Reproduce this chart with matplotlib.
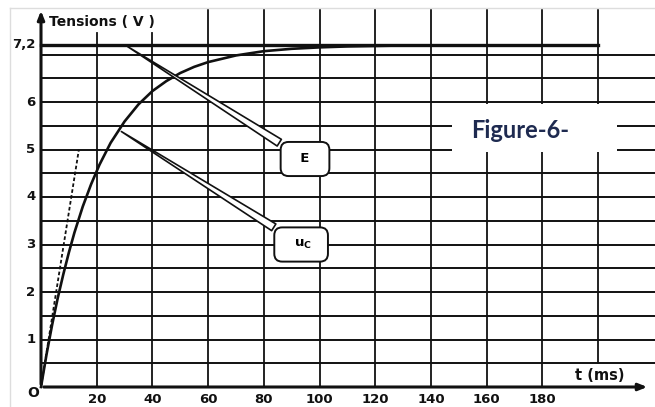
import matplotlib

matplotlib.use("Agg")
import matplotlib.pyplot as plt
from matplotlib.patches import Rectangle
from matplotlib.lines import Line2D

# values
t_ms = [0, 2, 4, 6, 8, 10, 12, 15, 18, 21, 25, 30, 35, 40, 45, 50, 55, 60,
        70, 80, 90, 100, 110, 120, 130]
u_c = [0.0, 0.69, 1.31, 1.87, 2.37, 2.83, 3.25, 3.80, 4.27, 4.68, 5.14, 5.59,
       5.95, 6.23, 6.44, 6.61, 6.74, 6.84, 6.98, 7.07, 7.12, 7.15, 7.17, 7.18, 7.19]
tangent_t = [0, 13.6]
tangent_u = [0, 5.0]
E = 7.2
x_ticks = [20, 40, 60, 80, 100, 120, 140, 160, 180]
y_ticks = [1, 2, 3, 4, 5, 6, 7.2]
y_labels = ["1", "2", "3", "4", "5", "6", "7,2"]

# pixel geometry of the scan: origin at (41, 387), 2.785 px/ms, 47.5 px/V
W, H = 655, 407
OX, OY, SX, SY = 41, 387, 2.785, 47.5

fig = plt.figure(figsize=(W / 100, H / 100), dpi=100)
ax = fig.add_axes([0, 0, 1, 1])
ax.set_xlim(-OX / SX, (W - OX) / SX)
ax.set_ylim((OY - H) / SY, OY / SY)
ax.axis("off")

INK = "#111111"
x_right = (W - OX) / SX

# light frame of the scanned page
fig.add_artist(Line2D([10 / W, 10 / W], [0, 1 - 8 / H], color="#dddddd", lw=1))
fig.add_artist(Line2D([10 / W, 1], [1 - 8 / H, 1 - 8 / H], color="#dddddd", lw=1))

# grid: half-volt horizontal lines, 20 ms vertical lines
for k in range(1, 15):
    ax.plot([0, x_right], [k * 0.5, k * 0.5], color=INK, lw=1.4, zorder=1)
for t in range(20, 220, 20):
    top = 7.45 if t <= 40 else 7.94
    bottom = 0.5 if t == 200 else 0
    ax.plot([t, t], [bottom, top], color=INK, lw=1.3, zorder=1)

# asymptote E
ax.plot([0, 200], [E, E], color=INK, lw=2.4, zorder=3)

# axes with arrows
ax.annotate("", xy=(0, 7.98), xytext=(0, 0),
            arrowprops=dict(arrowstyle="-|>,head_length=0.5,head_width=0.2",
                            color=INK, lw=2.2), zorder=4)
ax.annotate("", xy=(218.7, 0), xytext=(0, 0),
            arrowprops=dict(arrowstyle="-|>,head_length=0.5,head_width=0.2",
                            color=INK, lw=2.2), zorder=4)

# charging curve and initial tangent
ax.plot(t_ms, u_c, color=INK, lw=1.9, zorder=3)
ax.plot(tangent_t, tangent_u, color=INK, lw=1.3, ls=(0, (2, 1.3)), zorder=3)

# tick labels
lab = dict(fontsize=9.5, fontweight="bold", color=INK)
for t in x_ticks:
    ax.text(t, -0.27, str(t), ha="center", va="center", **lab)
for v, s in zip(y_ticks, y_labels):
    ax.text(-2.0, v, s, ha="right", va="center", **lab)
ax.text(-2.9, -0.13, "O", ha="center", va="center", fontsize=10,
        fontweight="bold", color=INK)
ax.text(3.0, 7.68, "Tensions ( V )", ha="left", va="center", fontsize=10,
        fontweight="bold", color=INK)
ax.text(191.7, 0.25, "t (ms)", ha="left", va="center", fontsize=10.5,
        fontweight="bold", color=INK)

# "Figure-6-" label on a white patch
ax.add_patch(Rectangle((147.6, 4.95), 59.4, 1.0, fc="white", ec="none", zorder=2))
ax.text(172.0, 5.41, "Figure-6-", ha="center", va="center", fontsize=17,
        fontweight="bold", family="Lato", color="#1e2a50", zorder=5)

# callouts
box = dict(boxstyle="round,pad=0.8,rounding_size=0.6", fc="white", ec=INK, lw=1.4)
wedge = dict(arrowstyle="wedge,tail_width=0.6,shrink_factor=0.5",
             fc="white", ec=INK, lw=1.2)
ax.annotate("  E  ", xy=(30.2, E), xytext=(94.8, 4.8), ha="center", va="center",
            fontsize=9.5, fontweight="bold", bbox=box, arrowprops=wedge, zorder=6)
ax.annotate(r"  u$_\mathbf{C}$  ", xy=(28.0, 5.41), xytext=(93.4, 3.0),
            ha="center", va="center", fontsize=9.5, fontweight="bold",
            bbox=box, arrowprops=wedge, zorder=6)

fig.savefig("out.png", dpi=100)
